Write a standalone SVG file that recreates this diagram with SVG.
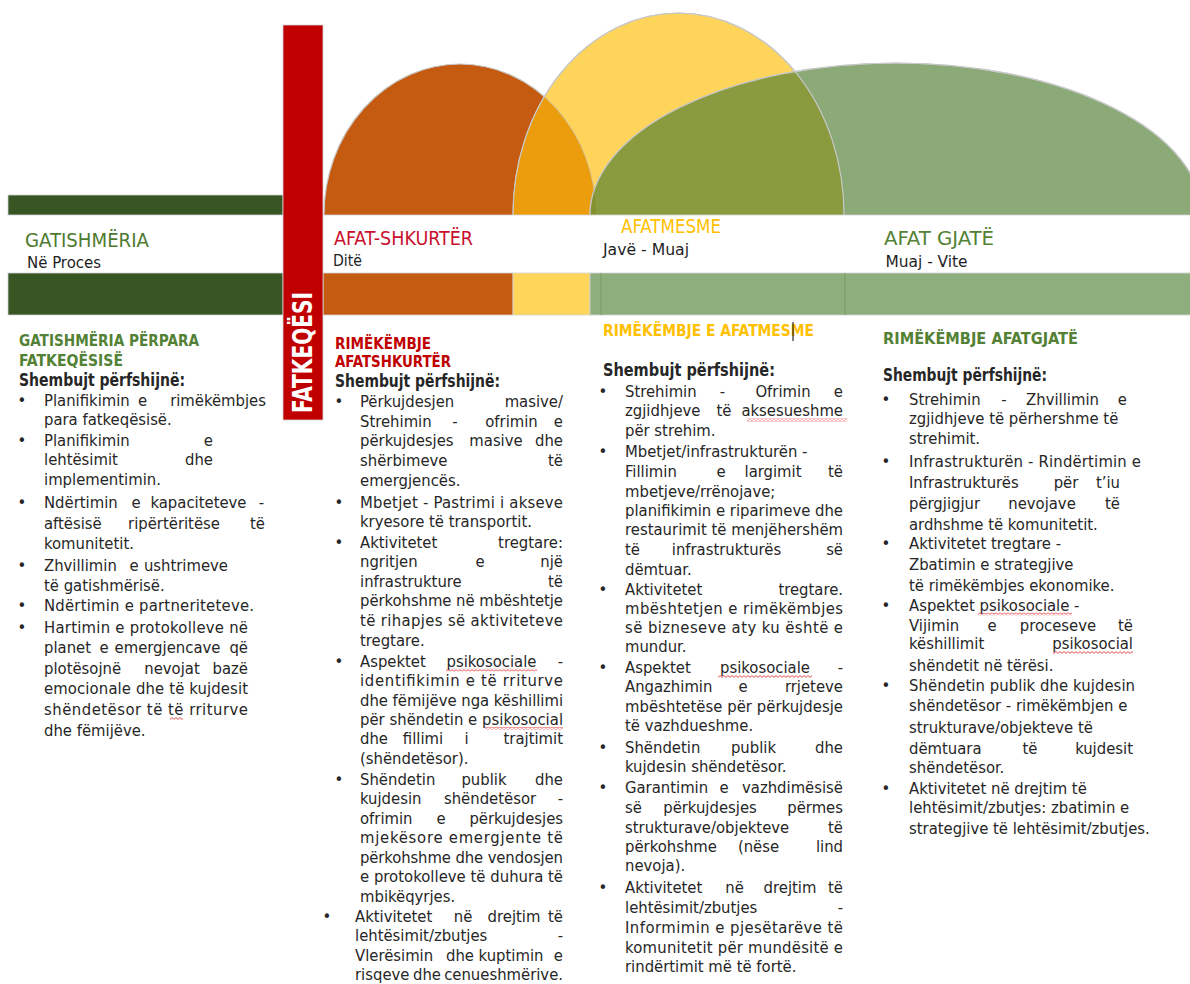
<svg xmlns="http://www.w3.org/2000/svg" width="1190" height="984" viewBox="0 0 1190 984">
  <style>
    text { font-family: "DejaVu Sans Condensed", "DejaVu Sans", sans-serif; font-stretch: condensed; }
    .t { font-size: 16.5px; fill: #262626; }
    .e { text-anchor: end; }
    .m { text-anchor: middle; }
    .bul { font-size: 16.5px; fill: #262626; text-anchor: middle; }
    .hd { font-size: 16.5px; font-weight: bold; }
    .sh { font-size: 17px; font-weight: bold; fill: #262626; }
    .lab { font-size: 19.5px; }
    .sub { font-size: 16px; fill: #1e1e1e; }
    .bar { stroke: #d2d2d2; stroke-width: 0.8; }
    .dome { stroke: #c8c8c8; stroke-width: 1.2; }
    .edge { fill: none; stroke: #c8c8c8; stroke-width: 1.2; }
    .green { fill: #538135; }
    .red { fill: #C00000; }
    .gold { fill: #FFC000; }
  </style>
  <defs>
    <clipPath id="above-base"><rect x="0" y="0" width="1190" height="215"/></clipPath>
    <clipPath id="in-yellow"><ellipse cx="678.5" cy="215" rx="165.5" ry="202"/></clipPath>
    <clipPath id="in-green"><ellipse cx="896" cy="215" rx="306" ry="152"/></clipPath>
    <pattern id="squiggle" width="4" height="3" patternUnits="userSpaceOnUse">
      <path d="M0 0.6 L2 2.4 L4 0.6" fill="none" stroke="#e02020" stroke-width="0.8"/>
    </pattern>
  </defs>

  <rect width="1190" height="984" fill="#ffffff"/>

  <!-- overlapping phase domes -->
  <g id="domes" clip-path="url(#above-base)">
    <ellipse class="dome" cx="460" cy="215" rx="136" ry="151" fill="#C55A11"/>
    <ellipse class="dome" cx="678.5" cy="215" rx="165.5" ry="202" fill="#FFD45B"/>
    <ellipse cx="460" cy="215" rx="136" ry="151" fill="#EB9D0E" clip-path="url(#in-yellow)"/>
    <ellipse class="edge" cx="460" cy="215" rx="136" ry="151" clip-path="url(#in-yellow)" stroke-opacity="0.5"/>
    <ellipse class="edge" cx="678.5" cy="215" rx="165.5" ry="202"/>
    <ellipse class="dome" cx="896" cy="215" rx="306" ry="152" fill="#8BAA77"/>
    <g clip-path="url(#in-green)">
      <ellipse cx="678.5" cy="215" rx="165.5" ry="202" fill="#8A9A3F"/>
      <ellipse cx="460" cy="215" rx="136" ry="151" fill="#84912E"/>
      <ellipse class="edge" cx="678.5" cy="215" rx="165.5" ry="202" stroke="#7f8f3a"/>
    </g>
    <ellipse class="edge" cx="896" cy="215" rx="306" ry="152"/>
  </g>

  <!-- timeline bands -->
  <g id="bands">
    <rect class="bar" x="8" y="195" width="275" height="20" fill="#375623"/>
    <rect class="bar" x="8" y="273" width="275" height="42" fill="#375623"/>
    <rect class="bar" x="323" y="273" width="190" height="42" fill="#C55A11"/>
    <rect class="bar" x="513" y="273" width="77" height="42" fill="#FFD55A"/>
    <rect class="bar" x="590" y="273" width="601" height="42" fill="#8EAE7D"/>
    <line x1="601" y1="273" x2="601" y2="315" stroke="#7a9a68" stroke-width="1"/>
    <line x1="845" y1="273" x2="845" y2="315" stroke="#7a9a68" stroke-width="1"/>
    <line x1="323" y1="215" x2="1190" y2="215" stroke="#d2d2d2" stroke-width="0.8"/>
  </g>

  <!-- disaster marker -->
  <g id="fatkeqesi">
    <rect class="bar" x="283" y="25" width="40" height="395" fill="#C00000"/>
    <text transform="translate(312,413) rotate(-90)" font-size="27" font-weight="bold" fill="#ffffff" textLength="121" lengthAdjust="spacingAndGlyphs">FATKEQËSI</text>
  </g>

  <!-- phase labels -->
  <g id="label-gatishmeria">
    <text class="lab" x="25" y="247" fill="#4E7A30" textLength="124" lengthAdjust="spacingAndGlyphs">GATISHMËRIA</text>
    <text class="sub" x="27" y="268" textLength="74" lengthAdjust="spacingAndGlyphs">Në Proces</text>
  </g>
  <g id="label-afatshkurter">
    <text class="lab" x="334" y="245" fill="#C8102E" textLength="139" lengthAdjust="spacingAndGlyphs">AFAT-SHKURTËR</text>
    <text class="sub" x="333" y="266" textLength="29" lengthAdjust="spacingAndGlyphs">Ditë</text>
  </g>
  <g id="label-afatmesme">
    <text class="lab" x="621" y="233" fill="#FFC000" textLength="100" lengthAdjust="spacingAndGlyphs">AFATMESME</text>
    <text class="sub" x="603" y="255" textLength="86" lengthAdjust="spacingAndGlyphs">Javë - Muaj</text>
  </g>
  <g id="label-afatgjate">
    <text class="lab" x="884" y="245" fill="#548235" textLength="110" lengthAdjust="spacingAndGlyphs">AFAT GJATË</text>
    <text class="sub" x="885.5" y="267" textLength="82" lengthAdjust="spacingAndGlyphs">Muaj - Vite</text>
  </g>

  <!-- column: preparedness -->
  <g id="col-gatishmeria">
    <text class="hd green" x="19" y="346" textLength="180" lengthAdjust="spacingAndGlyphs">GATISHMËRIA PËRPARA</text>
    <text class="hd green" x="19" y="366" textLength="104" lengthAdjust="spacingAndGlyphs">FATKEQËSISË</text>
    <text class="sh" x="19" y="386" textLength="166" lengthAdjust="spacingAndGlyphs">Shembujt përfshijnë:</text>
    <text class="bul" x="22" y="406">•</text>
    <text class="bul" x="22" y="446">•</text>
    <text class="bul" x="22" y="508">•</text>
    <text class="bul" x="22" y="571">•</text>
    <text class="bul" x="22" y="611">•</text>
    <text class="bul" x="22" y="633">•</text>
    <text class="t" x="44" y="406">Planifikimin</text><text class="t m" x="142.5" y="406">e</text><text class="t e" x="266" y="406">rimëkëmbjes</text>
    <text class="t" x="44" y="425">para fatkeqësisë.</text>
    <text class="t" x="44" y="446">Planifikimin</text><text class="t e" x="213" y="446">e</text>
    <text class="t" x="44" y="465">lehtësimit</text><text class="t e" x="213" y="465">dhe</text>
    <text class="t" x="44" y="485">implementimin.</text>
    <text class="t" x="44" y="508">Ndërtimin</text><text class="t m" x="136" y="508">e</text><text class="t m" x="198.5" y="508">kapaciteteve</text><text class="t e" x="264" y="508">-</text>
    <text class="t" x="44" y="529">aftësisë</text><text class="t m" x="174" y="529">ripërtëritëse</text><text class="t e" x="265" y="529">të</text>
    <text class="t" x="44" y="549">komunitetit.</text>
    <text class="t" x="44" y="571">Zhvillimin</text><text class="t m" x="134" y="571">e</text><text class="t e" x="228" y="571">ushtrimeve</text>
    <text class="t" x="44" y="591">të gatishmërisë.</text>
    <text class="t" x="44" y="611" textLength="210" lengthAdjust="spacing">Ndërtimin e partneriteteve.</text>
    <text class="t" x="44" y="633" textLength="204" lengthAdjust="spacing">Hartimin e protokolleve në</text>
    <text class="t" x="44" y="653">planet</text><text class="t m" x="104" y="653">e</text><text class="t m" x="167.5" y="653">emergjencave</text><text class="t e" x="248" y="653">që</text>
    <text class="t" x="44" y="674">plotësojnë</text><text class="t m" x="172" y="674">nevojat</text><text class="t e" x="248" y="674">bazë</text>
    <text class="t" x="44" y="694" textLength="204" lengthAdjust="spacing">emocionale dhe të kujdesit</text>
    <text class="t" x="44" y="715" textLength="204" lengthAdjust="spacing">shëndetësor të të rriturve</text>
    <text class="t" x="44" y="736">dhe fëmijëve.</text>
    <rect x="170" y="717" width="13" height="3" fill="url(#squiggle)"/>
  </g>

  <!-- column: short-term recovery -->
  <g id="col-afatshkurter">
    <text class="hd red" x="335" y="349" textLength="96" lengthAdjust="spacingAndGlyphs">RIMËKËMBJE</text>
    <text class="hd red" x="335" y="367" textLength="116" lengthAdjust="spacingAndGlyphs">AFATSHKURTËR</text>
    <text class="sh" x="335" y="387" textLength="165" lengthAdjust="spacingAndGlyphs">Shembujt përfshijnë:</text>
    <text class="bul" x="339" y="406.5">•</text>
    <text class="bul" x="339" y="507.5">•</text>
    <text class="bul" x="339" y="547.5">•</text>
    <text class="bul" x="339" y="666.5">•</text>
    <text class="bul" x="339" y="784.5">•</text>
    <text class="bul" x="327" y="922">•</text>
    <text class="t" x="360" y="406.5">Përkujdesjen</text><text class="t e" x="563" y="406.5">masive/</text>
    <text class="t" x="360" y="426.5">Strehimin</text><text class="t m" x="455" y="426.5">-</text><text class="t m" x="511.5" y="426.5">ofrimin</text><text class="t e" x="563" y="426.5">e</text>
    <text class="t" x="360" y="446">përkujdesjes</text><text class="t m" x="496" y="446">masive</text><text class="t e" x="563" y="446">dhe</text>
    <text class="t" x="360" y="466">shërbimeve</text><text class="t e" x="563" y="466">të</text>
    <text class="t" x="360" y="486">emergjencës.</text>
    <text class="t" x="360" y="507.5" textLength="203" lengthAdjust="spacing">Mbetjet - Pastrimi i akseve</text>
    <text class="t" x="360" y="526.5">kryesore të transportit.</text>
    <text class="t" x="360" y="547.5">Aktivitetet</text><text class="t e" x="563" y="547.5">tregtare:</text>
    <text class="t" x="360" y="567">ngritjen</text><text class="t m" x="480" y="567">e</text><text class="t e" x="563" y="567">një</text>
    <text class="t" x="360" y="587">infrastrukture</text><text class="t e" x="563" y="587">të</text>
    <text class="t" x="360" y="606" textLength="203" lengthAdjust="spacing">përkohshme në mbështetje</text>
    <text class="t" x="360" y="625.5" textLength="203" lengthAdjust="spacing">të rihapjes së aktiviteteve</text>
    <text class="t" x="360" y="645.5">tregtare.</text>
    <text class="t" x="360" y="666.5">Aspektet</text><text class="t m" x="491.5" y="666.5">psikosociale</text><text class="t e" x="563" y="666.5">-</text>
    <text class="t" x="360" y="686" textLength="203" lengthAdjust="spacing">identifikimin e të rriturve</text>
    <text class="t" x="360" y="706" textLength="203" lengthAdjust="spacing">dhe fëmijëve nga këshillimi</text>
    <text class="t" x="360" y="725" textLength="203" lengthAdjust="spacing">për shëndetin e psikosocial</text>
    <text class="t" x="360" y="744">dhe</text><text class="t m" x="423" y="744">fillimi</text><text class="t m" x="466.5" y="744">i</text><text class="t e" x="563" y="744">trajtimit</text>
    <text class="t" x="360" y="764">(shëndetësor).</text>
    <text class="t" x="360" y="784.5">Shëndetin</text><text class="t m" x="484" y="784.5">publik</text><text class="t e" x="563" y="784.5">dhe</text>
    <text class="t" x="360" y="804">kujdesin</text><text class="t m" x="490" y="804">shëndetësor</text><text class="t e" x="563" y="804">-</text>
    <text class="t" x="360" y="824">ofrimin</text><text class="t m" x="441" y="824">e</text><text class="t e" x="563" y="824">përkujdesjes</text>
    <text class="t" x="360" y="843" textLength="203" lengthAdjust="spacing">mjekësore emergjente të</text>
    <text class="t" x="360" y="862.5" textLength="203" lengthAdjust="spacing">përkohshme dhe vendosjen</text>
    <text class="t" x="360" y="882" textLength="203" lengthAdjust="spacing">e protokolleve të duhura të</text>
    <text class="t" x="360" y="901.5">mbikëqyrjes.</text>
    <text class="t" x="355" y="922">Aktivitetet</text><text class="t m" x="463" y="922">në</text><text class="t m" x="514" y="922">drejtim</text><text class="t e" x="563" y="922">të</text>
    <text class="t" x="355" y="941">lehtësimit/zbutjes</text><text class="t e" x="563" y="941">-</text>
    <text class="t" x="355" y="960.5">Vlerësimin</text><text class="t m" x="460" y="960.5">dhe</text><text class="t m" x="511" y="960.5">kuptimin</text><text class="t e" x="563" y="960.5">e</text>
    <text class="t" x="355" y="980">risqeve</text><text class="t m" x="427" y="980">dhe</text><text class="t e" x="563" y="980">cenueshmërive.</text>
    <rect x="446" y="668.5" width="91" height="3" fill="url(#squiggle)"/>
    <rect x="485" y="727" width="78" height="3" fill="url(#squiggle)"/>
  </g>

  <!-- column: medium-term recovery -->
  <g id="col-afatmesme">
    <text class="hd gold" x="603" y="336" textLength="211" lengthAdjust="spacingAndGlyphs">RIMËKËMBJE E AFATMESME</text>
    <line x1="793" y1="322" x2="793" y2="341" stroke="#000000" stroke-width="1"/>
    <text class="sh" x="603" y="376" textLength="172" lengthAdjust="spacingAndGlyphs">Shembujt përfshijnë:</text>
    <text class="bul" x="603" y="396.5">•</text>
    <text class="bul" x="603" y="457">•</text>
    <text class="bul" x="603" y="595">•</text>
    <text class="bul" x="603" y="673">•</text>
    <text class="bul" x="603" y="752.5">•</text>
    <text class="bul" x="603" y="793">•</text>
    <text class="bul" x="603" y="892.5">•</text>
    <text class="t" x="625" y="396.5">Strehimin</text><text class="t m" x="722.5" y="396.5">-</text><text class="t m" x="783" y="396.5">Ofrimin</text><text class="t e" x="843" y="396.5">e</text>
    <text class="t" x="625" y="416">zgjidhjeve</text><text class="t m" x="724" y="416">të</text><text class="t e" x="843" y="416">aksesueshme</text>
    <text class="t" x="625" y="436">për strehim.</text>
    <text class="t" x="625" y="457">Mbetjet/infrastrukturën -</text>
    <text class="t" x="625" y="477">Fillimin</text><text class="t m" x="721" y="477">e</text><text class="t m" x="773" y="477">largimit</text><text class="t e" x="843" y="477">të</text>
    <text class="t" x="625" y="496.5">mbetjeve/rrënojave;</text>
    <text class="t" x="625" y="515.5" textLength="218" lengthAdjust="spacing">planifikimin e riparimeve dhe</text>
    <text class="t" x="625" y="535" textLength="218" lengthAdjust="spacing">restaurimit të menjëhershëm</text>
    <text class="t" x="625" y="555">të</text><text class="t m" x="726.5" y="555">infrastrukturës</text><text class="t e" x="843" y="555">së</text>
    <text class="t" x="625" y="574.5">dëmtuar.</text>
    <text class="t" x="625" y="595">Aktivitetet</text><text class="t e" x="843" y="595">tregtare.</text>
    <text class="t" x="625" y="614" textLength="218" lengthAdjust="spacing">mbështetjen e rimëkëmbjes</text>
    <text class="t" x="625" y="633" textLength="218" lengthAdjust="spacing">së bizneseve aty ku është e</text>
    <text class="t" x="625" y="652">mundur.</text>
    <text class="t" x="625" y="673">Aspektet</text><text class="t m" x="765" y="673">psikosociale</text><text class="t e" x="843" y="673">-</text>
    <text class="t" x="625" y="692">Angazhimin</text><text class="t m" x="743" y="692">e</text><text class="t e" x="843" y="692">rrjeteve</text>
    <text class="t" x="625" y="712" textLength="218" lengthAdjust="spacing">mbështetëse për përkujdesje</text>
    <text class="t" x="625" y="731">të vazhdueshme.</text>
    <text class="t" x="625" y="752.5">Shëndetin</text><text class="t m" x="753.5" y="752.5">publik</text><text class="t e" x="843" y="752.5">dhe</text>
    <text class="t" x="625" y="772">kujdesin shëndetësor.</text>
    <text class="t" x="625" y="793">Garantimin</text><text class="t m" x="724" y="793">e</text><text class="t e" x="843" y="793">vazhdimësisë</text>
    <text class="t" x="625" y="812.5">së</text><text class="t m" x="710" y="812.5">përkujdesjes</text><text class="t e" x="843" y="812.5">përmes</text>
    <text class="t" x="625" y="832.5">strukturave/objekteve</text><text class="t e" x="843" y="832.5">të</text>
    <text class="t" x="625" y="851.5">përkohshme</text><text class="t m" x="758.5" y="851.5">(nëse</text><text class="t e" x="843" y="851.5">lind</text>
    <text class="t" x="625" y="871">nevoja).</text>
    <text class="t" x="625" y="892.5">Aktivitetet</text><text class="t m" x="734.5" y="892.5">në</text><text class="t m" x="790" y="892.5">drejtim</text><text class="t e" x="843" y="892.5">të</text>
    <text class="t" x="625" y="912.5">lehtësimit/zbutjes</text><text class="t e" x="843" y="912.5">-</text>
    <text class="t" x="625" y="932.5" textLength="218" lengthAdjust="spacing">Informimin e pjesëtarëve të</text>
    <text class="t" x="625" y="952.5" textLength="218" lengthAdjust="spacing">komunitetit për mundësitë e</text>
    <text class="t" x="625" y="971.5">rindërtimit më të fortë.</text>
    <rect x="747" y="418.5" width="100" height="3" fill="url(#squiggle)"/>
    <rect x="718" y="675" width="94" height="3" fill="url(#squiggle)"/>
  </g>

  <!-- column: long-term recovery -->
  <g id="col-afatgjate">
    <text class="hd green" x="883" y="344" textLength="195" lengthAdjust="spacingAndGlyphs">RIMËKËMBJE AFATGJATË</text>
    <text class="sh" x="883" y="381" textLength="164" lengthAdjust="spacingAndGlyphs">Shembujt përfshijnë:</text>
    <text class="bul" x="886" y="405">•</text>
    <text class="bul" x="886" y="467">•</text>
    <text class="bul" x="886" y="549">•</text>
    <text class="bul" x="886" y="610.5">•</text>
    <text class="bul" x="886" y="690.5">•</text>
    <text class="bul" x="886" y="793.5">•</text>
    <text class="t" x="909" y="405">Strehimin</text><text class="t m" x="1004" y="405">-</text><text class="t m" x="1062.5" y="405">Zhvillimin</text><text class="t e" x="1127" y="405">e</text>
    <text class="t" x="909" y="423.5">zgjidhjeve të përhershme të</text>
    <text class="t" x="909" y="444">strehimit.</text>
    <text class="t" x="909" y="467" textLength="232" lengthAdjust="spacing">Infrastrukturën - Rindërtimin e</text>
    <text class="t" x="909" y="488">Infrastrukturës</text><text class="t m" x="1066" y="488">për</text><text class="t e" x="1120" y="488">t’iu</text>
    <text class="t" x="909" y="508.5">përgjigjur</text><text class="t m" x="1042" y="508.5">nevojave</text><text class="t e" x="1120" y="508.5">të</text>
    <text class="t" x="909" y="530">ardhshme të komunitetit.</text>
    <text class="t" x="909" y="549">Aktivitetet tregtare -</text>
    <text class="t" x="909" y="569.5">Zbatimin e strategjive</text>
    <text class="t" x="909" y="590.5">të rimëkëmbjes ekonomike.</text>
    <text class="t" x="909" y="610.5">Aspektet psikosociale -</text>
    <text class="t" x="909" y="630.5">Vijimin</text><text class="t m" x="992" y="630.5">e</text><text class="t m" x="1058" y="630.5">proceseve</text><text class="t e" x="1133" y="630.5">të</text>
    <text class="t" x="909" y="649">këshillimit</text><text class="t e" x="1133" y="649">psikosocial</text>
    <text class="t" x="909" y="670.5">shëndetit në tërësi.</text>
    <text class="t" x="909" y="690.5" textLength="226" lengthAdjust="spacing">Shëndetin publik dhe kujdesin</text>
    <text class="t" x="909" y="711">shëndetësor - rimëkëmbjen e</text>
    <text class="t" x="909" y="732.5">strukturave/objekteve të</text>
    <text class="t" x="909" y="753.5">dëmtuara</text><text class="t m" x="1030" y="753.5">të</text><text class="t e" x="1133" y="753.5">kujdesit</text>
    <text class="t" x="909" y="773">shëndetësor.</text>
    <text class="t" x="909" y="793.5">Aktivitetet në drejtim të</text>
    <text class="t" x="909" y="812.5">lehtësimit/zbutjes: zbatimin e</text>
    <text class="t" x="909" y="833.5">strategjive të lehtësimit/zbutjes.</text>
    <rect x="978" y="612.5" width="94" height="3" fill="url(#squiggle)"/>
    <rect x="1053" y="651" width="80" height="3" fill="url(#squiggle)"/>
  </g>
</svg>
